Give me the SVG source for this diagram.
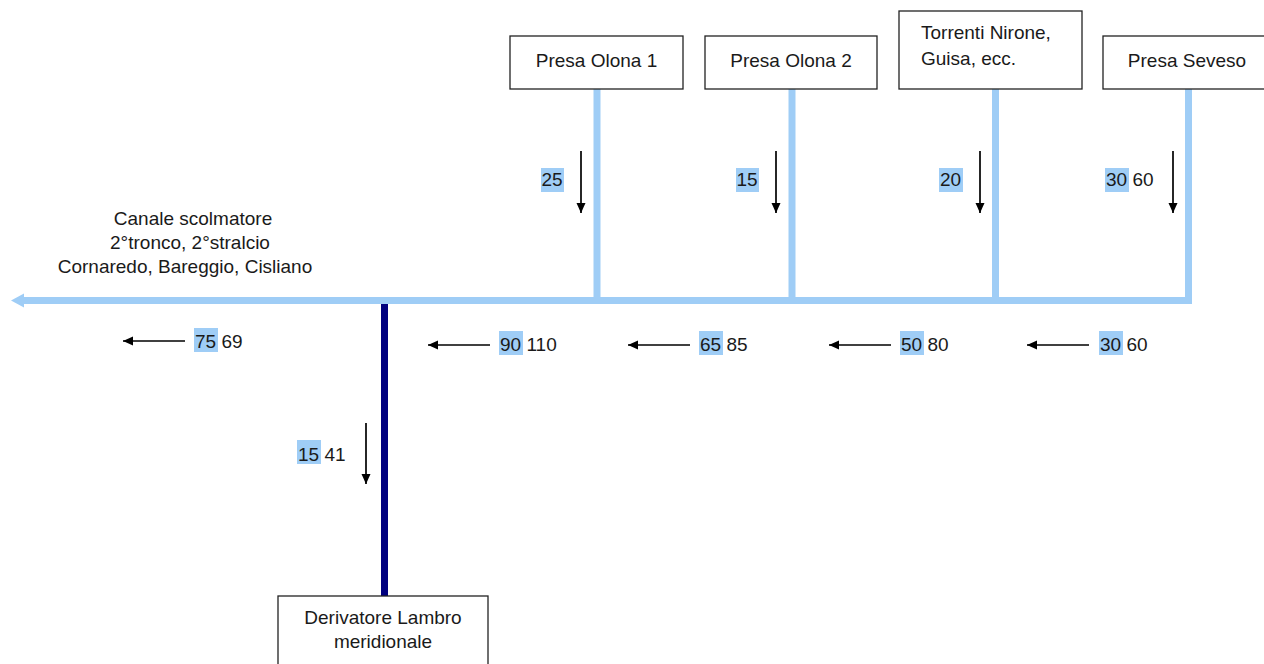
<svg xmlns="http://www.w3.org/2000/svg" width="1264" height="664" viewBox="0 0 1264 664">
<style>
text{font-family:"Liberation Sans",Arial,sans-serif;font-size:19px;fill:#1a1a1a}
.box{fill:#fff;stroke:#222;stroke-width:1.3}
.c{text-anchor:middle}
.hl{fill:#9fcdf6}
.flow{fill:none;stroke:#9fcdf6;stroke-width:7}
.arr{stroke:#000;stroke-width:1.7;fill:none;marker-end:url(#ah)}
</style>
<defs>
<marker id="ah" markerUnits="userSpaceOnUse" markerWidth="10" markerHeight="11" refX="10" refY="5.5" orient="auto">
<path d="M0,1 L10,5.5 L0,10 Z" fill="#000"/>
</marker>
</defs>
<g id="connectors">
<path class="flow" d="M597,89 V300.5"/>
<path class="flow" d="M792,89 V300.5"/>
<path class="flow" d="M995.5,89 V300.5"/>
<path class="flow" d="M1188.5,89 V300.5 H22" stroke-linejoin="miter"/>
<polygon points="11,300.5 24,293.5 24,307.5" fill="#9fcdf6"/>
<path d="M384.5,304 V596" stroke="#00007f" stroke-width="7" fill="none"/>
<line class="arr" x1="581" y1="151" x2="581" y2="213"/>
<line class="arr" x1="776" y1="151" x2="776" y2="213"/>
<line class="arr" x1="980" y1="151" x2="980" y2="213"/>
<line class="arr" x1="1173" y1="151" x2="1173" y2="213"/>
<line class="arr" x1="366" y1="423" x2="366" y2="484"/>
<line class="arr" x1="185" y1="341" x2="123" y2="341"/>
<line class="arr" x1="490" y1="345" x2="428" y2="345"/>
<line class="arr" x1="690" y1="345" x2="628" y2="345"/>
<line class="arr" x1="891" y1="345" x2="829" y2="345"/>
<line class="arr" x1="1089" y1="345" x2="1027" y2="345"/>
</g>
<g id="label-canale">
<text class="c" x="193" y="225">Canale scolmatore</text>
<text class="c" x="190" y="249">2°tronco, 2°stralcio</text>
<text class="c" x="185" y="273">Cornaredo, Bareggio, Cisliano</text>
</g>
<g id="presa-olona-1">
<rect class="box" x="510" y="36" width="173" height="53"/>
<text class="c" x="596.5" y="67">Presa Olona 1</text>
</g>
<g id="presa-olona-2">
<rect class="box" x="705" y="36" width="172" height="53"/>
<text class="c" x="791" y="67">Presa Olona 2</text>
</g>
<g id="torrenti">
<rect class="box" x="899" y="11" width="183" height="78"/>
<text x="921" y="39">Torrenti Nirone,</text>
<text x="921" y="65">Guisa, ecc.</text>
</g>
<g id="presa-seveso">
<rect class="box" x="1103" y="36" width="180" height="53"/>
<text class="c" x="1187" y="67">Presa Seveso</text>
</g>
<g id="derivatore">
<rect class="box" x="278" y="596" width="210" height="90"/>
<text class="c" x="383" y="624">Derivatore Lambro</text>
<text class="c" x="383" y="648">meridionale</text>
</g>
<g id="labels">
<rect class="hl" x="541" y="168" width="23" height="24"/><text x="541.5" y="186">25</text>
<rect class="hl" x="736" y="168" width="23" height="24"/><text x="736.5" y="186">15</text>
<rect class="hl" x="939" y="168" width="24" height="24"/><text x="940" y="186">20</text>
<rect class="hl" x="1105" y="168" width="24" height="24"/><text x="1106" y="186">30 60</text>
<rect class="hl" x="297" y="440" width="24" height="24"/><text x="298" y="461">15 41</text>
<rect class="hl" x="194" y="328" width="24" height="24"/><text x="195" y="348">75 69</text>
<rect class="hl" x="499" y="331" width="24" height="24"/><text x="500" y="351">90 110</text>
<rect class="hl" x="699" y="331" width="24" height="24"/><text x="700" y="351">65 85</text>
<rect class="hl" x="900" y="331" width="24" height="24"/><text x="901" y="351">50 80</text>
<rect class="hl" x="1099" y="331" width="24" height="24"/><text x="1100" y="351">30 60</text>
</g>
</svg>
